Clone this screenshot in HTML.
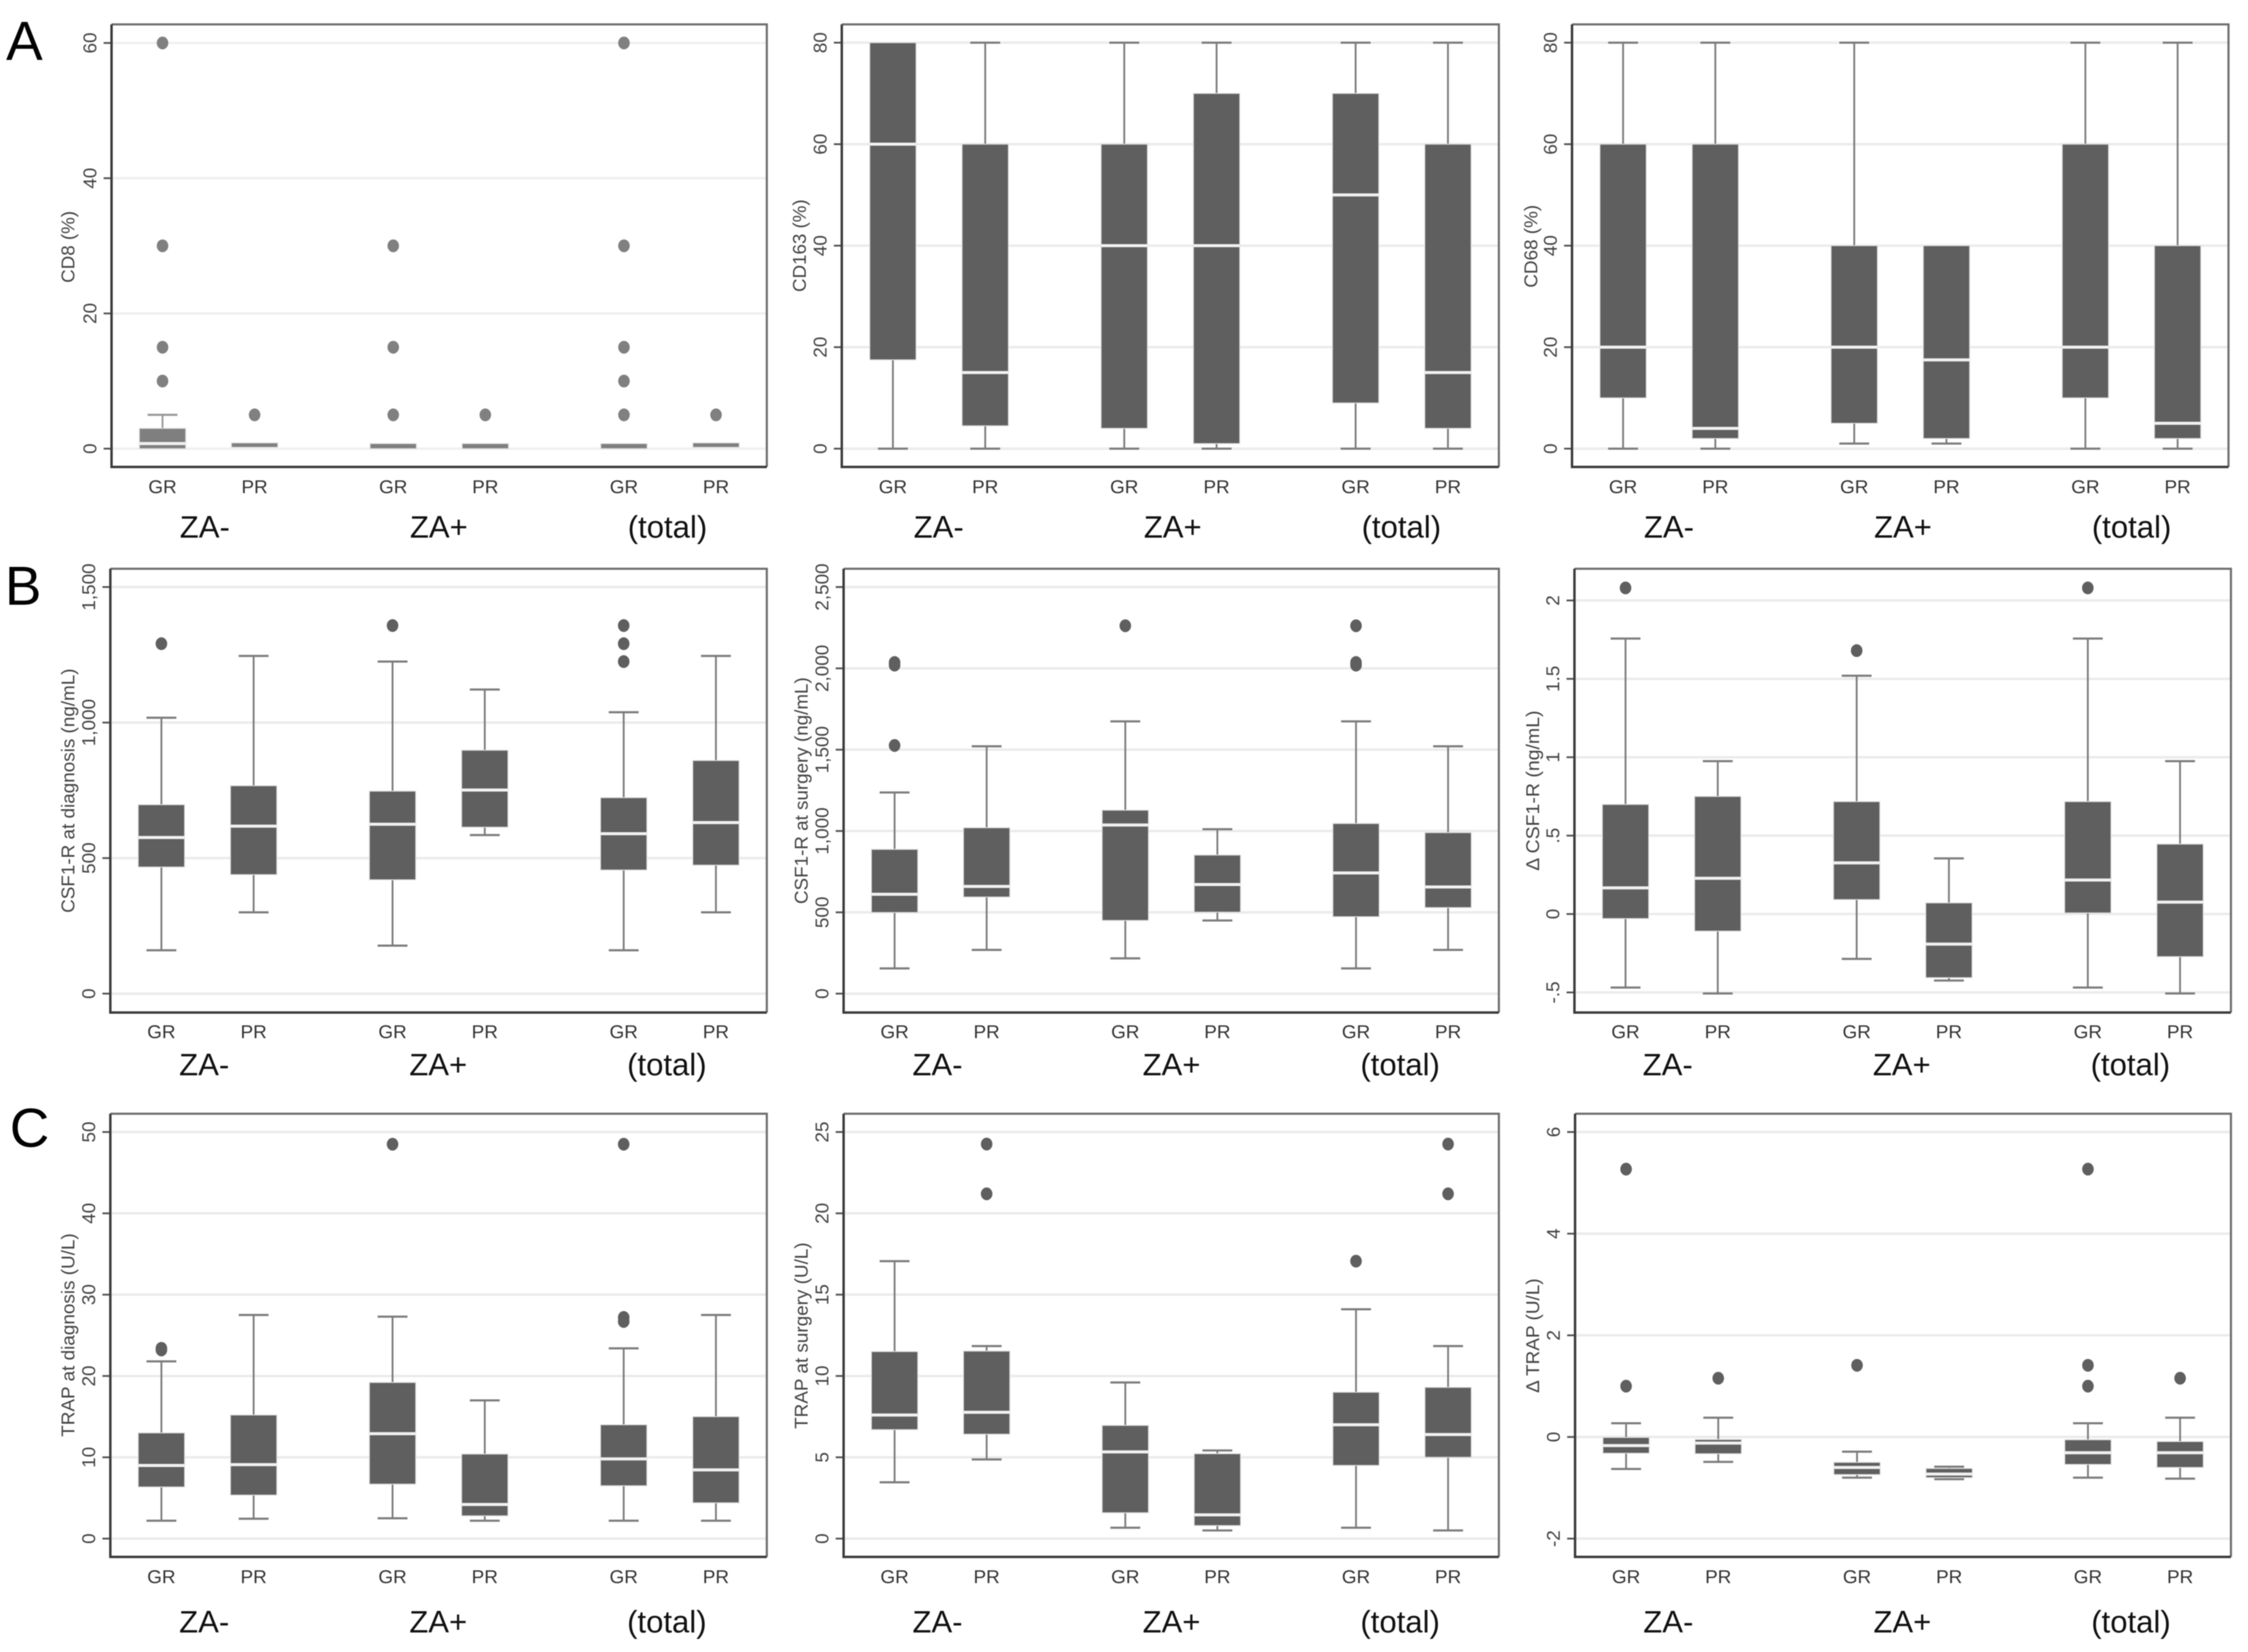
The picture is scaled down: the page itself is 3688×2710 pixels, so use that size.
<!DOCTYPE html>
<html lang="en">
<head>
<meta charset="utf-8">
<title>CD8, CD163, CD68, CSF1-R and TRAP box plots</title>
<style>
html,body{margin:0;padding:0;background:#fff;}
#figure{display:block;width:3688px;height:2710px;background:#fff;font-family:"Liberation Sans",Arial,sans-serif;filter:blur(0.7px);}
.ytitle{font-size:31px;fill:#444;text-anchor:middle;}
.letter{font-size:90px;fill:#000;}
</style>
</head>
<body>
<svg id="figure" xmlns="http://www.w3.org/2000/svg" width="3688" height="2710" viewBox="0 0 3688 2710">
  <rect x="0" y="0" width="3688" height="2710" fill="#fff"/>
  <g id="plots"></g>
  <text class="letter" x="10" y="98">A</text>
  <text class="letter" x="8" y="992">B</text>
  <text class="letter" x="16" y="1881">C</text>
  <text class="ytitle" textLength="118" lengthAdjust="spacingAndGlyphs" transform="translate(122,405) rotate(-90)">CD8 (%)</text>
  <text class="ytitle" textLength="152" lengthAdjust="spacingAndGlyphs" transform="translate(1322,403) rotate(-90)">CD163 (%)</text>
  <text class="ytitle" textLength="136" lengthAdjust="spacingAndGlyphs" transform="translate(2522,404) rotate(-90)">CD68 (%)</text>
  <text class="ytitle" textLength="401" lengthAdjust="spacingAndGlyphs" transform="translate(122,1297) rotate(-90)">CSF1-R at diagnosis (ng/mL)</text>
  <text class="ytitle" textLength="372" lengthAdjust="spacingAndGlyphs" transform="translate(1325,1297) rotate(-90)">CSF1-R at surgery (ng/mL)</text>
  <text class="ytitle" textLength="263" lengthAdjust="spacingAndGlyphs" transform="translate(2525,1297) rotate(-90)">Δ CSF1-R (ng/mL)</text>
  <text class="ytitle" textLength="334" lengthAdjust="spacingAndGlyphs" transform="translate(122,2190) rotate(-90)">TRAP at diagnosis (U/L)</text>
  <text class="ytitle" textLength="306" lengthAdjust="spacingAndGlyphs" transform="translate(1325,2191) rotate(-90)">TRAP at surgery (U/L)</text>
  <text class="ytitle" textLength="188" lengthAdjust="spacingAndGlyphs" transform="translate(2525,2191) rotate(-90)">Δ TRAP (U/L)</text>
</svg>
<script>
const categories = ['GR','PR','GR','PR','GR','PR'];
const groupLabels = ['ZA-','ZA+','(total)'];

const cd8Ticks = [0,20,40,60];
const cd8TickLabels = ['0','20','40','60'];
const cd8Hi = [5,0.85,0.75,0.75,0.75,0.85];
const cd8Q3 = [3,0.85,0.75,0.75,0.75,0.85];
const cd8Median = [0.75,null,null,null,null,null];
const cd8Q1 = [0,0.2,0,0,0,0.2];
const cd8Lo = [0,0.2,0,0,0,0.2];
const cd8Outliers = [[60,30,15,10],[5],[30,15,5],[5],[60,30,15,10,5],[5]];

const cd163Ticks = [0,20,40,60,80];
const cd163TickLabels = ['0','20','40','60','80'];
const cd163Hi = [80,80,80,80,80,80];
const cd163Q3 = [80,60,60,70,70,60];
const cd163Median = [60,15,40,40,50,15];
const cd163Q1 = [17.5,4.5,4,1,9,4];
const cd163Lo = [0,0,0,0,0,0];
const cd163Outliers = [[],[],[],[],[],[]];

const cd68Ticks = [0,20,40,60,80];
const cd68TickLabels = ['0','20','40','60','80'];
const cd68Hi = [80,80,80,40,80,80];
const cd68Q3 = [60,60,40,40,60,40];
const cd68Median = [20,4,20,17.5,20,5];
const cd68Q1 = [10,2,5,2,10,2];
const cd68Lo = [0,0,1,1,0,0];
const cd68Outliers = [[],[],[],[],[],[]];

const csfDiagTicks = [0,500,1000,1500];
const csfDiagTickLabels = ['0','500','1,000','1,500'];
const csfDiagHi = [1018,1246,1225,1122,1038,1246];
const csfDiagQ3 = [697,767,747,898,723,860];
const csfDiagMedian = [576,618,625,751,590,631];
const csfDiagQ1 = [467,439,420,614,456,474];
const csfDiagLo = [160,300,177,585,160,300];
const csfDiagOutliers = [[1291],[],[1358],[],[1358,1291,1225],[]];

const csfSurgTicks = [0,500,1000,1500,2000,2500];
const csfSurgTickLabels = ['0','500','1,000','1,500','2,000','2,500'];
const csfSurgHi = [1237,1521,1674,1011,1674,1521];
const csfSurgQ3 = [887,1020,1128,852,1046,990];
const csfSurgMedian = [611,659,1037,671,742,656];
const csfSurgQ1 = [499,594,450,501,473,529];
const csfSurgLo = [155,269,217,450,155,269];
const csfSurgOutliers = [[2036,2020,1526],[],[2262],[],[2262,2036,2020],[]];

const csfDeltaTicks = [-0.5,0,0.5,1,1.5,2];
const csfDeltaTickLabels = ['-.5','0','.5','1','1.5','2'];
const csfDeltaHi = [1.757,0.975,1.52,0.355,1.757,0.975];
const csfDeltaQ3 = [0.699,0.75,0.717,0.071,0.717,0.446];
const csfDeltaMedian = [0.167,0.228,0.326,-0.192,0.217,0.076];
const csfDeltaQ1 = [-0.029,-0.109,0.092,-0.406,0.007,-0.272];
const csfDeltaLo = [-0.469,-0.507,-0.286,-0.424,-0.469,-0.507];
const csfDeltaOutliers = [[2.08],[],[1.68],[],[2.08],[]];

const trapDiagTicks = [0,10,20,30,40,50];
const trapDiagTickLabels = ['0','10','20','30','40','50'];
const trapDiagHi = [21.8,27.5,27.3,17,23.4,27.5];
const trapDiagQ3 = [13,15.2,19.2,10.4,14,15];
const trapDiagMedian = [9,9.1,12.9,4.2,9.8,8.45];
const trapDiagQ1 = [6.35,5.35,6.7,2.8,6.5,4.4];
const trapDiagLo = [2.2,2.45,2.5,2.2,2.2,2.2];
const trapDiagOutliers = [[23.4,23.2],[],[48.5],[],[48.5,27.2,26.7],[]];

const trapSurgTicks = [0,5,10,15,20,25];
const trapSurgTickLabels = ['0','5','10','15','20','25'];
const trapSurgHi = [17.06,11.84,9.6,5.42,14.1,11.84];
const trapSurgQ3 = [11.5,11.53,6.96,5.22,9,9.3];
const trapSurgMedian = [7.6,7.77,5.33,1.46,7,6.4];
const trapSurgQ1 = [6.7,6.42,1.59,0.8,4.5,5];
const trapSurgLo = [3.46,4.87,0.67,0.5,0.67,0.5];
const trapSurgOutliers = [[],[24.26,21.2],[],[],[17.06],[24.26,21.2]];

const trapDeltaTicks = [-2,0,2,4,6];
const trapDeltaTickLabels = ['-2','0','2','4','6'];
const trapDeltaHi = [0.27,0.38,-0.29,-0.585,0.27,0.38];
const trapDeltaQ3 = [-0.01,-0.05,-0.5,-0.62,-0.055,-0.09];
const trapDeltaMedian = [-0.17,-0.12,-0.6,-0.73,-0.31,-0.31];
const trapDeltaQ1 = [-0.32,-0.33,-0.74,-0.8,-0.54,-0.6];
const trapDeltaLo = [-0.63,-0.49,-0.8,-0.83,-0.8,-0.82];
const trapDeltaOutliers = [[5.27,1],[1.156],[1.41],[],[5.27,1.41,1],[1.156]];

const NS = 'http://www.w3.org/2000/svg';
const root = document.getElementById('plots');

const centerFractions = [0.0778,0.2183,0.4299,0.5704,0.782,0.9225];
const groupOffsets = [153,537,912];

const panels = [
  {id:'cd8',left:183,right:1258,top:40,bottom:766,yMinPx:736,yMaxPx:70.5,catBase:809,grpBase:882,shift:0,boxFill:'#7f7f7f',whisk:'#999',dot:'#808080',gridColor:'#f0f0f0',
   ticks:cd8Ticks,tickLabels:cd8TickLabels,hi:cd8Hi,q3:cd8Q3,med:cd8Median,q1:cd8Q1,lo:cd8Lo,out:cd8Outliers},
  {id:'cd163',left:1381,right:2459,top:40,bottom:766,yMinPx:736,yMaxPx:70,catBase:809,grpBase:882,shift:6,
   ticks:cd163Ticks,tickLabels:cd163TickLabels,hi:cd163Hi,q3:cd163Q3,med:cd163Median,q1:cd163Q1,lo:cd163Lo,out:cd163Outliers},
  {id:'cd68',left:2579,right:3656,top:40,bottom:766,yMinPx:736,yMaxPx:70,catBase:809,grpBase:882,shift:6,
   ticks:cd68Ticks,tickLabels:cd68TickLabels,hi:cd68Hi,q3:cd68Q3,med:cd68Median,q1:cd68Q1,lo:cd68Lo,out:cd68Outliers},
  {id:'csf1r-diagnosis',left:181,right:1258,top:933,bottom:1661,yMinPx:1630,yMaxPx:963,catBase:1703,grpBase:1764,shift:1,
   ticks:csfDiagTicks,tickLabels:csfDiagTickLabels,hi:csfDiagHi,q3:csfDiagQ3,med:csfDiagMedian,q1:csfDiagQ1,lo:csfDiagLo,out:csfDiagOutliers},
  {id:'csf1r-surgery',left:1384,right:2459,top:933,bottom:1661,yMinPx:1630,yMaxPx:963,catBase:1703,grpBase:1764,shift:1,
   ticks:csfSurgTicks,tickLabels:csfSurgTickLabels,hi:csfSurgHi,q3:csfSurgQ3,med:csfSurgMedian,q1:csfSurgQ1,lo:csfSurgLo,out:csfSurgOutliers},
  {id:'delta-csf1r',left:2583,right:3660,top:933,bottom:1661,yMinPx:1628,yMaxPx:985,catBase:1703,grpBase:1764,shift:0,
   ticks:csfDeltaTicks,tickLabels:csfDeltaTickLabels,hi:csfDeltaHi,q3:csfDeltaQ3,med:csfDeltaMedian,q1:csfDeltaQ1,lo:csfDeltaLo,out:csfDeltaOutliers},
  {id:'trap-diagnosis',left:181,right:1258,top:1827,bottom:2554,yMinPx:2524,yMaxPx:1857,catBase:2597,grpBase:2678,shift:1,
   ticks:trapDiagTicks,tickLabels:trapDiagTickLabels,hi:trapDiagHi,q3:trapDiagQ3,med:trapDiagMedian,q1:trapDiagQ1,lo:trapDiagLo,out:trapDiagOutliers},
  {id:'trap-surgery',left:1384,right:2459,top:1827,bottom:2554,yMinPx:2524,yMaxPx:1857,catBase:2597,grpBase:2678,shift:1,
   ticks:trapSurgTicks,tickLabels:trapSurgTickLabels,hi:trapSurgHi,q3:trapSurgQ3,med:trapSurgMedian,q1:trapSurgQ1,lo:trapSurgLo,out:trapSurgOutliers},
  {id:'delta-trap',left:2584,right:3660,top:1827,bottom:2554,yMinPx:2524,yMaxPx:1857,catBase:2597,grpBase:2678,shift:0,
   ticks:trapDeltaTicks,tickLabels:trapDeltaTickLabels,hi:trapDeltaHi,q3:trapDeltaQ3,med:trapDeltaMedian,q1:trapDeltaQ1,lo:trapDeltaLo,out:trapDeltaOutliers}
];

function make(parent, tag, props) {
  const node = document.createElementNS(NS, tag);
  for (const k in props) node.setAttribute(k, props[k]);
  parent.appendChild(node);
  return node;
}

function drawPanel(p) {
  const g = make(root, 'g', {});
  
  

  const domMin = Math.min.apply(null, p.ticks);
  const domMax = Math.max.apply(null, p.ticks);
  const yScale = function (v) {
    return p.yMinPx - (v - domMin) / (domMax - domMin) * (p.yMinPx - p.yMaxPx);
  };
  const xScale = function (i) {
    return p.left + centerFractions[i] * (p.right - p.left);
  };

  const boxFill = p.boxFill || '#5f5f5f';
  const whisk = p.whisk || '#7c7c7c';
  const dot = p.dot || '#5f5f5f';
  const gridColor = p.gridColor || '#ebebeb';

  p.ticks.forEach(function (t, i) {
    const y = yScale(t);
    const grid = make(g, 'line', {x1: p.left, x2: p.right, y1: y, y2: y, stroke: gridColor, 'stroke-width': 4});
    
    
    const tick = make(g, 'line', {x1: p.left - 13, x2: p.left, y1: y, y2: y, stroke: '#555', 'stroke-width': 3});
    
    
    const lx = p.left - 25;
    const label = make(g, 'text', {'font-size': 31, fill: '#444', 'text-anchor': 'middle', transform: 'translate(' + lx + ',' + y + ') rotate(-90)'});
    
    
    label.textContent = p.tickLabels[i];
  });

  categories.forEach(function (cat, i) {
    const x = xScale(i);
    const capHalf = 24.5;
    const boxHalf = 38;
    const yHi = yScale(p.hi[i]);
    const yQ3 = yScale(p.q3[i]);
    const yQ1 = yScale(p.q1[i]);
    const yLo = yScale(p.lo[i]);

    if (p.hi[i] !== p.q3[i]) {
      const up = make(g, 'line', {x1: x, x2: x, y1: yHi, y2: yQ3, stroke: whisk, 'stroke-width': 3});
      
      
      const upCap = make(g, 'line', {x1: x - capHalf, x2: x + capHalf, y1: yHi, y2: yHi, stroke: whisk, 'stroke-width': 3.5});
      
      
    }
    if (p.lo[i] !== p.q1[i]) {
      const down = make(g, 'line', {x1: x, x2: x, y1: yQ1, y2: yLo, stroke: whisk, 'stroke-width': 3});
      
      
      const downCap = make(g, 'line', {x1: x - capHalf, x2: x + capHalf, y1: yLo, y2: yLo, stroke: whisk, 'stroke-width': 3.5});
      
      
    }

    const box = make(g, 'rect', {x: x - boxHalf, y: yQ3, width: boxHalf * 2, height: Math.max(yQ1 - yQ3, 1), fill: boxFill, stroke: '#dcdcdc', 'stroke-width': 1.5});
    
    

    if (p.med[i] !== null) {
      const yMed = yScale(p.med[i]);
      const med = make(g, 'line', {x1: x - boxHalf, x2: x + boxHalf, y1: yMed, y2: yMed, stroke: '#f1f1f1', 'stroke-width': 5});
      
      
    }

    p.out[i].forEach(function (v) {
      const pt = make(g, 'ellipse', {cx: x, cy: yScale(v), rx: 9.5, ry: 10.5, fill: dot});
      
      
    });

    const cl = make(g, 'text', {x: x, y: p.catBase, 'font-size': 31, fill: '#333', 'text-anchor': 'middle'});
    
    
    cl.textContent = cat;
  });

  groupLabels.forEach(function (name, i) {
    const gl = make(g, 'text', {x: p.left + groupOffsets[i] + p.shift, y: p.grpBase, 'font-size': 51, fill: '#111', 'text-anchor': 'middle'});
    
    
    gl.textContent = name;
  });

  const frameLight = make(g, 'path', {d: 'M' + p.left + ' ' + p.top + 'H' + p.right + 'V' + p.bottom, fill: 'none', stroke: '#6e6e6e', 'stroke-width': 3.5});
  
  
  const frameDark = make(g, 'path', {d: 'M' + p.left + ' ' + p.top + 'V' + p.bottom + 'H' + p.right, fill: 'none', stroke: '#3c3c3c', 'stroke-width': 4});
  
  
}

panels.forEach(drawPanel);
</script>
</body>
</html>
